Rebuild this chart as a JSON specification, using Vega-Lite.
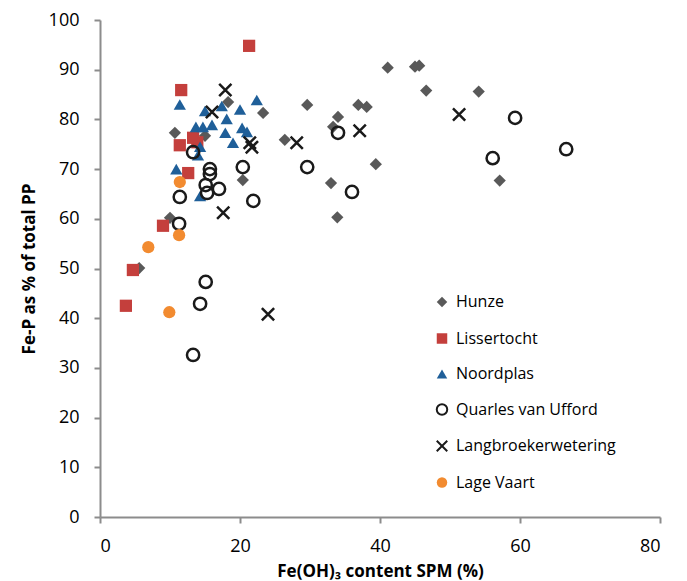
{
  "$schema": "https://vega.github.io/schema/vega-lite/v6.json",
  "width": 560,
  "height": 497,
  "autosize": {"type": "none"},
  "padding": {"left": 100, "top": 20, "right": 27, "bottom": 64},
  "background": "white",
  "config": {
    "view": {"stroke": null},
    "font": "Open Sans",
    "axis": {"grid": false, "domainColor": "#8c8c8c", "domainWidth": 2, "tickColor": "#8c8c8c", "tickWidth": 2, "tickSize": 6, "labelFont": "Open Sans", "labelFontSize": 18, "labelColor": "#000000", "titleFont": "Open Sans", "titleFontWeight": "bold", "titleFontSize": 17, "titleColor": "#000000"}
  },
  "data": {
    "values": [
      {"series": "Hunze", "x": 10.7, "y": 77.3},
      {"series": "Hunze", "x": 18.3, "y": 83.5},
      {"series": "Hunze", "x": 23.3, "y": 81.3},
      {"series": "Hunze", "x": 15.0, "y": 76.7},
      {"series": "Hunze", "x": 20.4, "y": 67.8},
      {"series": "Hunze", "x": 10.0, "y": 60.2},
      {"series": "Hunze", "x": 5.6, "y": 50.1},
      {"series": "Hunze", "x": 29.6, "y": 82.9},
      {"series": "Hunze", "x": 34.0, "y": 80.5},
      {"series": "Hunze", "x": 33.3, "y": 78.5},
      {"series": "Hunze", "x": 36.9, "y": 82.9},
      {"series": "Hunze", "x": 38.1, "y": 82.5},
      {"series": "Hunze", "x": 39.4, "y": 71.0},
      {"series": "Hunze", "x": 33.0, "y": 67.2},
      {"series": "Hunze", "x": 33.9, "y": 60.3},
      {"series": "Hunze", "x": 41.1, "y": 90.4},
      {"series": "Hunze", "x": 45.0, "y": 90.6},
      {"series": "Hunze", "x": 45.6, "y": 90.8},
      {"series": "Hunze", "x": 46.6, "y": 85.8},
      {"series": "Hunze", "x": 54.1, "y": 85.6},
      {"series": "Hunze", "x": 57.1, "y": 67.7},
      {"series": "Hunze", "x": 26.4, "y": 75.9},
      {"series": "Lissertocht", "x": 21.3, "y": 94.8},
      {"series": "Lissertocht", "x": 11.6, "y": 85.9},
      {"series": "Lissertocht", "x": 11.4, "y": 74.8},
      {"series": "Lissertocht", "x": 13.9, "y": 75.4},
      {"series": "Lissertocht", "x": 13.3, "y": 76.3},
      {"series": "Lissertocht", "x": 12.6, "y": 69.2},
      {"series": "Lissertocht", "x": 9.0, "y": 58.6},
      {"series": "Lissertocht", "x": 4.7, "y": 49.7},
      {"series": "Lissertocht", "x": 3.7, "y": 42.5},
      {"series": "Noordplas", "x": 11.4, "y": 83.0},
      {"series": "Noordplas", "x": 22.4, "y": 83.9},
      {"series": "Noordplas", "x": 15.0, "y": 81.7},
      {"series": "Noordplas", "x": 17.4, "y": 82.7},
      {"series": "Noordplas", "x": 20.0, "y": 82.0},
      {"series": "Noordplas", "x": 18.1, "y": 80.1},
      {"series": "Noordplas", "x": 13.7, "y": 78.5},
      {"series": "Noordplas", "x": 14.7, "y": 78.5},
      {"series": "Noordplas", "x": 16.0, "y": 78.9},
      {"series": "Noordplas", "x": 17.9, "y": 77.3},
      {"series": "Noordplas", "x": 20.3, "y": 78.3},
      {"series": "Noordplas", "x": 21.0, "y": 77.5},
      {"series": "Noordplas", "x": 19.0, "y": 75.3},
      {"series": "Noordplas", "x": 14.3, "y": 74.5},
      {"series": "Noordplas", "x": 14.0, "y": 72.8},
      {"series": "Noordplas", "x": 10.9, "y": 70.0},
      {"series": "Noordplas", "x": 14.3, "y": 64.6},
      {"series": "Quarles van Ufford", "x": 13.3, "y": 73.4},
      {"series": "Quarles van Ufford", "x": 15.7, "y": 70.0},
      {"series": "Quarles van Ufford", "x": 15.7, "y": 69.0},
      {"series": "Quarles van Ufford", "x": 20.4, "y": 70.4},
      {"series": "Quarles van Ufford", "x": 15.1, "y": 66.8},
      {"series": "Quarles van Ufford", "x": 17.0, "y": 66.0},
      {"series": "Quarles van Ufford", "x": 15.3, "y": 65.2},
      {"series": "Quarles van Ufford", "x": 11.4, "y": 64.4},
      {"series": "Quarles van Ufford", "x": 21.9, "y": 63.6},
      {"series": "Quarles van Ufford", "x": 11.3, "y": 59.0},
      {"series": "Quarles van Ufford", "x": 15.1, "y": 47.3},
      {"series": "Quarles van Ufford", "x": 14.3, "y": 42.9},
      {"series": "Quarles van Ufford", "x": 13.3, "y": 32.6},
      {"series": "Quarles van Ufford", "x": 34.0, "y": 77.3},
      {"series": "Quarles van Ufford", "x": 29.6, "y": 70.4},
      {"series": "Quarles van Ufford", "x": 36.0, "y": 65.4},
      {"series": "Quarles van Ufford", "x": 59.3, "y": 80.3},
      {"series": "Quarles van Ufford", "x": 56.1, "y": 72.2},
      {"series": "Quarles van Ufford", "x": 66.6, "y": 74.0},
      {"series": "Langbroekerwetering", "x": 17.9, "y": 85.9},
      {"series": "Langbroekerwetering", "x": 16.0, "y": 81.5},
      {"series": "Langbroekerwetering", "x": 21.4, "y": 75.3},
      {"series": "Langbroekerwetering", "x": 21.7, "y": 74.4},
      {"series": "Langbroekerwetering", "x": 17.6, "y": 61.2},
      {"series": "Langbroekerwetering", "x": 24.0, "y": 40.8},
      {"series": "Langbroekerwetering", "x": 28.1, "y": 75.3},
      {"series": "Langbroekerwetering", "x": 37.1, "y": 77.7},
      {"series": "Langbroekerwetering", "x": 51.3, "y": 81.0},
      {"series": "Lage Vaart", "x": 11.4, "y": 67.4},
      {"series": "Lage Vaart", "x": 11.3, "y": 56.7},
      {"series": "Lage Vaart", "x": 6.9, "y": 54.3},
      {"series": "Lage Vaart", "x": 9.9, "y": 41.2}
    ]
  },
  "mark": {"type": "point", "size": 150, "strokeWidth": 2.5, "opacity": 1},
  "encoding": {
    "x": {"field": "x", "type": "quantitative", "scale": {"domain": [0, 80], "nice": false}, "axis": {"values": [0, 20, 40, 60, 80], "title": "Fe(OH)₃ content SPM (%)", "labelPadding": 14, "titlePadding": 8}},
    "y": {"field": "y", "type": "quantitative", "scale": {"domain": [0, 100], "nice": false}, "axis": {"values": [0, 10, 20, 30, 40, 50, 60, 70, 80, 90, 100], "title": "Fe-P as % of total PP", "labelPadding": 15, "titlePadding": 10}},
    "shape": {"field": "series", "type": "nominal", "sort": null,
      "scale": {"domain": ["Hunze", "Lissertocht", "Noordplas", "Quarles van Ufford", "Langbroekerwetering", "Lage Vaart"],
        "range": ["diamond", "square", "triangle-up", "circle", "M-1,-1L1,1M-1,1L1,-1", "circle"]},
      "legend": {"title": null, "orient": "none", "legendX": 334, "legendY": 274, "padding": 0, "rowPadding": 16.5, "labelFont": "Open Sans", "labelFontSize": 16, "labelColor": "#000000", "labelOffset": 6, "symbolSize": 110, "symbolStrokeWidth": 2}},
    "fill": {"field": "series", "type": "nominal",
      "scale": {"domain": ["Hunze", "Lissertocht", "Noordplas", "Quarles van Ufford", "Langbroekerwetering", "Lage Vaart"],
        "range": ["#595959", "#C43F3C", "#1F5F99", "transparent", "transparent", "#F28B30"]}},
    "stroke": {"field": "series", "type": "nominal",
      "scale": {"domain": ["Hunze", "Lissertocht", "Noordplas", "Quarles van Ufford", "Langbroekerwetering", "Lage Vaart"],
        "range": ["transparent", "transparent", "transparent", "#1a1a1a", "#1a1a1a", "transparent"]}}
  }
}
